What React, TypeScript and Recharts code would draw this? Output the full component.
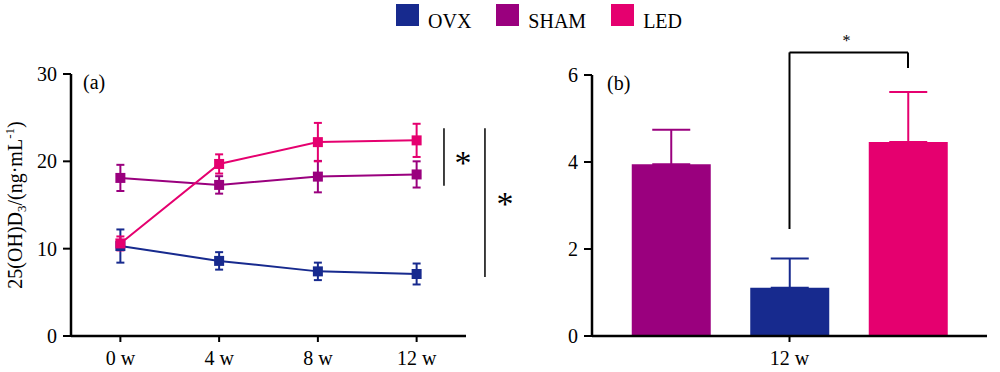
import {
  LineChart,
  Line,
  BarChart,
  Bar,
  XAxis,
  YAxis,
  ErrorBar,
  Legend,
  ReferenceLine,
  ReferenceDot,
} from 'recharts';

const FONT = '"Liberation Serif", "Times New Roman", serif';

const groups = ['OVX', 'SHAM', 'LED'];
const weeks = ['0 w', '4 w', '8 w', '12 w'];
const ovxMean = [10.3, 8.6, 7.4, 7.1];
const ovxSd = [1.9, 1.0, 1.0, 1.2];
const shamMean = [18.1, 17.3, 18.25, 18.5];
const shamSd = [1.5, 1.0, 1.8, 1.5];
const ledMean = [10.6, 19.7, 22.2, 22.4];
const ledSd = [0.8, 1.1, 2.2, 1.9];

const barLabel = '12 w';
const barGroups = ['SHAM', 'OVX', 'LED'];
const barMean = [3.95, 1.11, 4.46];
const barSd = [0.79, 0.67, 1.15];

const COLORS: Record<string, string> = { OVX: '#172a8e', SHAM: '#9a007e', LED: '#e5006f' };

const lineRows = weeks.map((_, i) => ({
  x: i,
  OVX: ovxMean[i],
  OVXe: ovxSd[i],
  SHAM: shamMean[i],
  SHAMe: shamSd[i],
  LED: ledMean[i],
  LEDe: ledSd[i],
}));

// one row per bar; bar centres at -1, 0, 1 on a numeric axis
const barRows = barGroups.map((g, i) => ({
  x: i - 1,
  [g]: barMean[i],
  [g + 'e']: [0, barSd[i]],
}));

const tickStyle = { fill: '#000', fontSize: 20, fontFamily: FONT };
const axisLine = { stroke: '#000', strokeWidth: 2.5 };
const tickLine = { stroke: '#000', strokeWidth: 2 };

function squareDot(color: string) {
  return (props: any) => {
    const { cx, cy, index } = props;
    if (cx == null || cy == null) return null;
    return <rect key={index} x={cx - 5} y={cy - 5} width={10} height={10} fill={color} />;
  };
}

function textShape(text: string, size: number, anchor: 'start' | 'middle' = 'middle', shift = 0) {
  return (props: any) => (
    <text
      x={props.cx}
      y={props.cy + shift}
      textAnchor={anchor}
      fontSize={size}
      fontFamily={FONT}
      fill="#000"
    >
      {text}
    </text>
  );
}

function YTitle(props: any) {
  const { x, y, height } = props.viewBox;
  const tx = x + 22;
  const ty = y + height / 2;
  return (
    <text
      x={tx}
      y={ty}
      transform={`rotate(-90 ${tx} ${ty})`}
      textAnchor="middle"
      fontSize={20}
      fontFamily={FONT}
      fill="#000"
    >
      25(OH)D
      <tspan dy={4} fontSize={13}>3</tspan>
      <tspan dy={-4}>/(ng·mL</tspan>
      <tspan dy={-8} fontSize={13}>-1</tspan>
      <tspan dy={8}>)</tspan>
    </text>
  );
}

function LegendBox(props: any) {
  const items = [...(props.payload || [])].sort(
    (a: any, b: any) => groups.indexOf(a.value) - groups.indexOf(b.value),
  );
  return (
    <div style={{ display: 'flex', fontFamily: FONT, fontSize: 20, color: '#000' }}>
      {items.map((it: any) => (
        <div key={it.value} style={{ display: 'flex', alignItems: 'flex-start', marginRight: 25 }}>
          <div style={{ width: 23, height: 22, background: it.color }} />
          <span style={{ marginLeft: 9, lineHeight: '20px', marginTop: 7 }}>{it.value}</span>
        </div>
      ))}
    </div>
  );
}

export default function App() {
  return (
    <div
      style={{
        position: 'absolute',
        left: 0,
        top: 0,
        width: 1000,
        height: 372,
        background: '#fff',
      }}
    >
      <div style={{ position: 'absolute', left: 0, top: 0 }}>
        <LineChart
          width={540}
          height={372}
          data={lineRows}
          margin={{ top: 74, right: 74, bottom: 6, left: 0 }}
        >
          <XAxis
            dataKey="x"
            type="number"
            domain={[-0.5, 3.5]}
            ticks={[0, 1, 2, 3]}
            tickFormatter={(v: number) => weeks[v]}
            height={30}
            tick={tickStyle}
            axisLine={axisLine}
            tickLine={tickLine}
            tickSize={6}
            tickMargin={9}
          />
          <YAxis
            domain={[0, 30]}
            ticks={[0, 10, 20, 30]}
            width={71}
            tick={tickStyle}
            axisLine={axisLine}
            tickLine={tickLine}
            tickSize={8}
            tickMargin={6}
            label={<YTitle />}
          />
          <Legend
            layout="horizontal"
            verticalAlign="middle"
            align="center"
            content={<LegendBox />}
            wrapperStyle={{ left: 396, top: 4, width: 400, height: 30 }}
          />
          <Line
            name="OVX"
            dataKey="OVX"
            stroke={COLORS.OVX}
            strokeWidth={2}
            dot={squareDot(COLORS.OVX)}
            activeDot={false}
            isAnimationActive={false}
          >
            <ErrorBar dataKey="OVXe" width={4} stroke={COLORS.OVX} strokeWidth={2} />
          </Line>
          <Line
            name="SHAM"
            dataKey="SHAM"
            stroke={COLORS.SHAM}
            strokeWidth={2}
            dot={squareDot(COLORS.SHAM)}
            activeDot={false}
            isAnimationActive={false}
          >
            <ErrorBar dataKey="SHAMe" width={4} stroke={COLORS.SHAM} strokeWidth={2} />
          </Line>
          <Line
            name="LED"
            dataKey="LED"
            stroke={COLORS.LED}
            strokeWidth={2}
            dot={squareDot(COLORS.LED)}
            activeDot={false}
            isAnimationActive={false}
          >
            <ErrorBar dataKey="LEDe" width={4} stroke={COLORS.LED} strokeWidth={2} />
          </Line>
          <ReferenceLine
            segment={[
              { x: 3.277, y: 23.8 },
              { x: 3.277, y: 17.2 },
            ]}
            stroke="#000"
            strokeWidth={1.5}
            ifOverflow="visible"
          />
          <ReferenceLine
            segment={[
              { x: 3.692, y: 23.8 },
              { x: 3.692, y: 6.76 },
            ]}
            stroke="#000"
            strokeWidth={1.5}
            ifOverflow="visible"
          />
          <ReferenceDot x={3.47} y={20.27} r={0} ifOverflow="visible" shape={textShape('*', 34, 'middle', 15)} />
          <ReferenceDot x={3.895} y={15.57} r={0} ifOverflow="visible" shape={textShape('*', 34, 'middle', 15)} />
          <ReferenceDot x={-0.378} y={28.28} r={0} ifOverflow="visible" shape={textShape('(a)', 20, 'start')} />
        </LineChart>
      </div>
      <div style={{ position: 'absolute', left: 500, top: 0 }}>
        <BarChart
          width={500}
          height={372}
          data={barRows}
          margin={{ top: 75, right: 13, bottom: 6, left: 0 }}
          barSize={79}
        >
          <XAxis
            dataKey="x"
            type="number"
            domain={[-5 / 3, 5 / 3]}
            ticks={[0]}
            tickFormatter={() => barLabel}
            height={30}
            tick={tickStyle}
            axisLine={axisLine}
            tickLine={tickLine}
            tickSize={6}
            tickMargin={9}
          />
          <YAxis
            domain={[0, 6]}
            ticks={[0, 2, 4, 6]}
            width={92}
            tick={tickStyle}
            axisLine={axisLine}
            tickLine={tickLine}
            tickSize={8}
            tickMargin={6}
          />
          {barGroups.map((g) => (
            <Bar key={g} dataKey={g} stackId="g" fill={COLORS[g]} isAnimationActive={false}>
              <ErrorBar dataKey={g + 'e'} width={19} stroke={COLORS[g]} strokeWidth={2} />
            </Bar>
          ))}
          <ReferenceLine
            segment={[
              { x: 0, y: 2.46 },
              { x: 0, y: 6.52 },
            ]}
            stroke="#000"
            strokeWidth={2}
            ifOverflow="visible"
          />
          <ReferenceLine
            segment={[
              { x: 0, y: 6.52 },
              { x: 1, y: 6.52 },
            ]}
            stroke="#000"
            strokeWidth={2}
            ifOverflow="visible"
          />
          <ReferenceLine
            segment={[
              { x: 1, y: 6.52 },
              { x: 1, y: 6.16 },
            ]}
            stroke="#000"
            strokeWidth={2}
            ifOverflow="visible"
          />
          <ReferenceDot x={0.48} y={6.83} r={0} ifOverflow="visible" shape={textShape('*', 16, 'middle', 7)} />
          <ReferenceDot x={-1.54} y={5.655} r={0} ifOverflow="visible" shape={textShape('(b)', 20, 'start')} />
        </BarChart>
      </div>
    </div>
  );
}
